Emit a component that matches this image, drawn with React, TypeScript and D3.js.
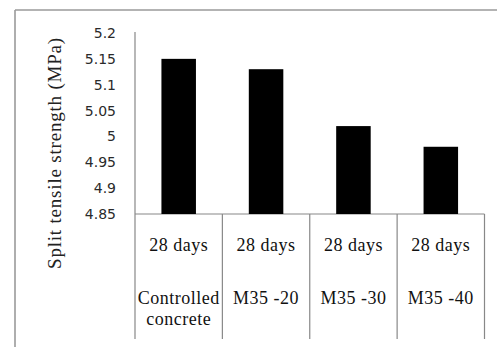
import React from "react";
import * as d3 from "d3";

const categories = ["Controlled concrete", "M35 -20", "M35 -30", "M35 -40"];
const categoryLines = [["Controlled", "concrete"], ["M35 -20"], ["M35 -30"], ["M35 -40"]];
const ageLabels = ["28 days", "28 days", "28 days", "28 days"];
const values = [5.15, 5.13, 5.02, 4.98];
const yTicks = [4.85, 4.9, 4.95, 5, 5.05, 5.1, 5.15, 5.2];
const yTitle = "Split tensile strength (MPa)";

export default function App() {
  const W = 497;
  const H = 347;
  const plotLeft = 135;
  const plotRight = 484.5;
  const yBase = 214;
  const yTop = 33;
  const tableBottom = 339;

  const x = d3.scaleBand<string>().domain(categories).range([plotLeft, plotRight]).paddingInner(0).paddingOuter(0);
  const y = d3.scaleLinear().domain([4.85, 5.2]).range([yBase, yTop]);
  const barW = x.bandwidth() * 0.395;
  const fmt = (v: number) => d3.format("")(+v.toFixed(2));

  const serif = "'Liberation Serif', 'Times New Roman', serif";
  const sans = "'DejaVu Sans', Verdana, sans-serif";

  return (
    <svg width={W} height={H} style={{ position: "absolute", left: 0, top: 0, background: "#fff" }}>
      <rect x={0} y={0} width={W} height={H} fill="#fff" />
      {/* outer frame */}
      <line x1={15} y1={10} x2={W} y2={10} stroke="#9a9a9a" strokeWidth={1.6} />
      <line x1={15} y1={10} x2={15} y2={H} stroke="#9a9a9a" strokeWidth={1.6} />

      {/* y axis line */}
      <line x1={plotLeft} y1={yTop - 1} x2={plotLeft} y2={tableBottom} stroke="#888" strokeWidth={1.2} />
      {/* baseline */}
      <line x1={plotLeft} y1={yBase} x2={plotRight} y2={yBase} stroke="#888" strokeWidth={1.2} />
      {/* category separators */}
      {categories.map((c) => (
        <line key={c} x1={(x(c) as number) + x.bandwidth()} y1={yBase} x2={(x(c) as number) + x.bandwidth()} y2={tableBottom} stroke="#888" strokeWidth={1.2} />
      ))}

      {/* bars */}
      {categories.map((c, i) => {
        const cx = (x(c) as number) + x.bandwidth() / 2;
        return (
          <rect key={c} x={cx - barW / 2} y={y(values[i])} width={barW} height={yBase - y(values[i])} fill="#000" />
        );
      })}

      {/* y tick labels */}
      {yTicks.map((t) => (
        <text key={t} x={116} y={y(t)} dy="0.36em" textAnchor="end" fontFamily={sans} fontSize={14} fill="#2a2a2a">
          {fmt(t)}
        </text>
      ))}

      {/* y title */}
      <text
        transform={`translate(61,153) rotate(-90)`}
        textAnchor="middle"
        fontFamily={serif}
        fontSize={19}
        letterSpacing={0.8}
        fill="#222"
      >
        {yTitle}
      </text>

      {/* category labels */}
      {categories.map((c, i) => {
        const cx = (x(c) as number) + x.bandwidth() / 2;
        return (
          <g key={c}>
            <text x={cx} y={250.5} textAnchor="middle" fontFamily={serif} fontSize={18} letterSpacing={0.5} fill="#111">
              {ageLabels[i]}
            </text>
            {categoryLines[i].map((ln, j) => (
              <text key={j} x={cx} y={303.5 + j * 21} textAnchor="middle" fontFamily={serif} fontSize={18} letterSpacing={0.5} fill="#111">
                {ln}
              </text>
            ))}
          </g>
        );
      })}
    </svg>
  );
}
